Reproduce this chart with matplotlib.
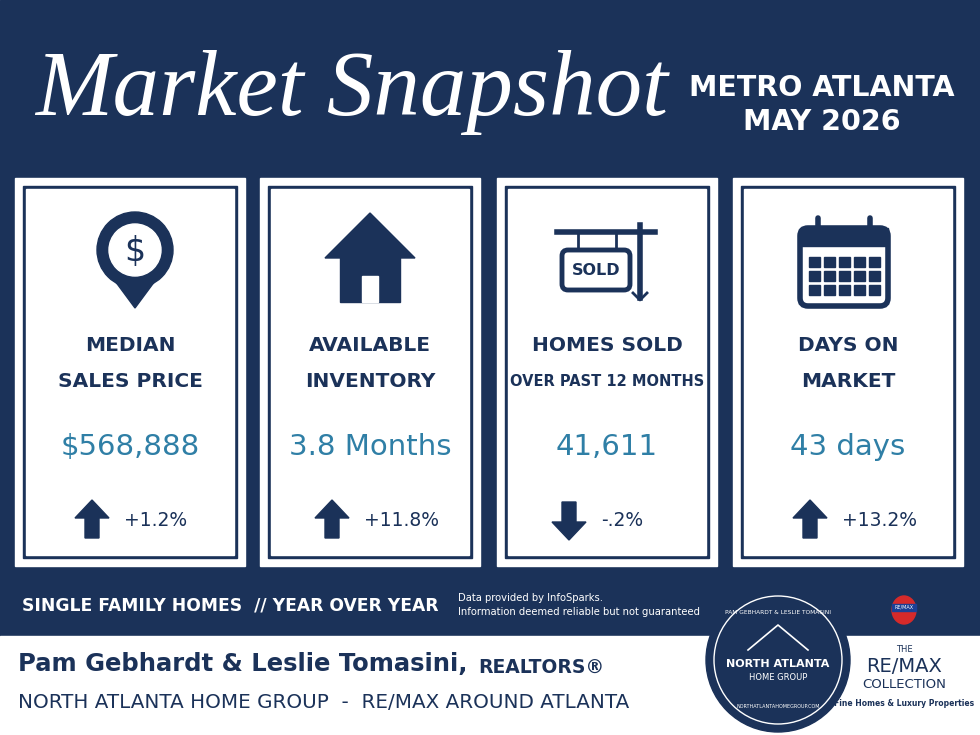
import matplotlib
matplotlib.use("Agg")
import matplotlib.pyplot as plt
from matplotlib.patches import Rectangle, Circle, Polygon, FancyBboxPatch, Ellipse

labels1 = ["MEDIAN", "AVAILABLE", "HOMES SOLD", "DAYS ON"]
labels2 = ["SALES PRICE", "INVENTORY", "OVER PAST 12 MONTHS", "MARKET"]
values = ["$568,888", "3.8 Months", "41,611", "43 days"]
changes = ["+1.2%", "+11.8%", "-.2%", "+13.2%"]
directions = ["up", "up", "down", "up"]

NAVY = "#1b3259"
TEAL = "#2f7fa6"
WHITE = "white"

fig = plt.figure(figsize=(9.8, 7.35), dpi=100)
ax = fig.add_axes([0, 0, 1, 1])
ax.set_xlim(0, 980); ax.set_ylim(735, 0); ax.axis("off")
ax.add_patch(Rectangle((0, 0), 980, 636, color=NAVY))
ax.add_patch(Rectangle((0, 636), 980, 99, color=WHITE))

F = "DejaVu Sans"
ax.text(352, 92, "Market Snapshot", color=WHITE, fontsize=67, family="Liberation Serif",
        style="italic", ha="center", va="center")
ax.text(822, 88, "METRO ATLANTA", color=WHITE, fontsize=20.5, weight="bold", ha="center", va="center", family=F)
ax.text(822, 122, "MAY 2026", color=WHITE, fontsize=20.5, weight="bold", ha="center", va="center", family=F)

cards = [(15, 245), (260, 480), (497, 717), (733, 963)]
for i, (x0, x1) in enumerate(cards):
    y0, y1 = 178, 566
    ax.add_patch(Rectangle((x0, y0), x1 - x0, y1 - y0, color=WHITE))
    ax.add_patch(Rectangle((x0 + 8, y0 + 8), x1 - x0 - 16, y1 - y0 - 16, color=NAVY))
    ax.add_patch(Rectangle((x0 + 11, y0 + 11), x1 - x0 - 22, y1 - y0 - 22, color=WHITE))
    cx = (x0 + x1) / 2
    ax.text(cx, 345, labels1[i], color=NAVY, fontsize=14.5, weight="bold", ha="center", va="center", family=F)
    ax.text(cx, 381, labels2[i], color=NAVY, fontsize=14.5 if i != 2 else 10.5, weight="bold",
            ha="center", va="center", family=F)
    ax.text(cx, 447, values[i], color=TEAL, fontsize=21, ha="center", va="center", family=F)
    axx, ayy = cx - 38, 520
    if directions[i] == "up":
        pts = [(axx - 17, ayy - 2), (axx, ayy - 20), (axx + 17, ayy - 2), (axx + 7, ayy - 2),
               (axx + 7, ayy + 18), (axx - 7, ayy + 18), (axx - 7, ayy - 2)]
    else:
        pts = [(axx - 17, ayy + 2), (axx, ayy + 20), (axx + 17, ayy + 2), (axx + 7, ayy + 2),
               (axx + 7, ayy - 18), (axx - 7, ayy - 18), (axx - 7, ayy + 2)]
    ax.add_patch(Polygon(pts, color=NAVY))
    ax.text(axx + 32, 520, changes[i], color=NAVY, fontsize=13.5, ha="left", va="center", family=F)

# icon 1: pin
ax.add_patch(Polygon([(101, 262), (135, 308), (169, 262)], color=NAVY))
ax.add_patch(Circle((135, 250), 38, color=NAVY))
ax.add_patch(Circle((135, 250), 26, color=WHITE))
ax.text(135, 251, "$", color=NAVY, fontsize=24, ha="center", va="center", family=F)
# icon 2: house
ax.add_patch(Polygon([(325, 258), (370, 213), (415, 258)], color=NAVY))
ax.add_patch(Rectangle((340, 250), 60, 52, color=NAVY))
ax.add_patch(Rectangle((362, 276), 16, 26, color=WHITE))
# icon 3: sign
ax.plot([557, 655], [232, 232], color=NAVY, lw=4)
ax.plot([640, 640], [225, 298], color=NAVY, lw=4)
ax.plot([633, 640, 647], [293, 300, 293], color=NAVY, lw=2)
ax.plot([578, 578], [232, 250], color=NAVY, lw=2)
ax.plot([616, 616], [232, 250], color=NAVY, lw=2)
ax.add_patch(FancyBboxPatch((562, 250), 68, 40, boxstyle="round,pad=0,rounding_size=6",
                            fc=WHITE, ec=NAVY, lw=3.5))
ax.text(596, 270, "SOLD", color=NAVY, fontsize=11.5, weight="bold", ha="center", va="center", family=F)
# icon 4: calendar
ax.add_patch(FancyBboxPatch((800, 228), 88, 78, boxstyle="round,pad=0,rounding_size=8",
                            fc=WHITE, ec=NAVY, lw=4))
ax.add_patch(Rectangle((800, 228), 88, 18, color=NAVY))
for kx in [818, 870]:
    ax.plot([kx, kx], [218, 240], color=NAVY, lw=4, solid_capstyle="round")
for r in range(3):
    for c in range(5):
        ax.add_patch(Rectangle((809 + c * 15, 257 + r * 14), 11, 10, color=NAVY))

ax.text(22, 606, "SINGLE FAMILY HOMES  // YEAR OVER YEAR", color=WHITE, fontsize=12.3,
        weight="bold", ha="left", va="center", family=F)
ax.text(458, 598, "Data provided by InfoSparks.", color=WHITE, fontsize=7.2, ha="left", va="center", family=F)
ax.text(458, 612, "Information deemed reliable but not guaranteed", color=WHITE, fontsize=7.2,
        ha="left", va="center", family=F)

ax.text(18, 664, "Pam Gebhardt & Leslie Tomasini,", color=NAVY, fontsize=17.5, weight="bold",
        ha="left", va="center", family=F)
ax.text(478, 667, "REALTORS®", color=NAVY, fontsize=13.5, weight="bold", ha="left", va="center", family=F)
ax.text(18, 702, "NORTH ATLANTA HOME GROUP  -  RE/MAX AROUND ATLANTA", color=NAVY, fontsize=14.3,
        ha="left", va="center", family=F)

# circle logo
ax.add_patch(Circle((778, 660), 72, color=NAVY))
ax.add_patch(Circle((778, 660), 64, fc="none", ec=WHITE, lw=1))
ax.text(778, 612, "PAM GEBHARDT & LESLIE TOMASINI", color=WHITE, fontsize=4.2, ha="center", va="center", family=F)
ax.plot([748, 778, 808], [650, 625, 650], color=WHITE, lw=1.2)
ax.text(778, 664, "NORTH ATLANTA", color=WHITE, fontsize=8, weight="bold", ha="center", va="center", family=F)
ax.text(778, 677, "HOME GROUP", color=WHITE, fontsize=6, ha="center", va="center", family=F)
ax.text(778, 707, "NORTHATLANTAHOMEGROUP.COM", color=WHITE, fontsize=3.5, ha="center", va="center", family=F)

# remax logo
ax.add_patch(Ellipse((904, 610), 24, 28, color="#d62a2a"))
ax.add_patch(Rectangle((892, 604), 24, 7, color="#1c3f94"))
ax.text(904, 607, "RE/MAX", color=WHITE, fontsize=3.5, ha="center", va="center", family=F)
ax.text(904, 650, "THE", color=NAVY, fontsize=6, ha="center", va="center", family=F)
ax.text(904, 666, "RE/MAX", color=NAVY, fontsize=14, ha="center", va="center", family=F)
ax.text(904, 685, "COLLECTION", color=NAVY, fontsize=9.5, ha="center", va="center", family=F)
ax.text(904, 703, "Fine Homes & Luxury Properties", color=NAVY, fontsize=5.5, weight="bold",
        ha="center", va="center", family=F)

fig.savefig("out.png", dpi=100)
